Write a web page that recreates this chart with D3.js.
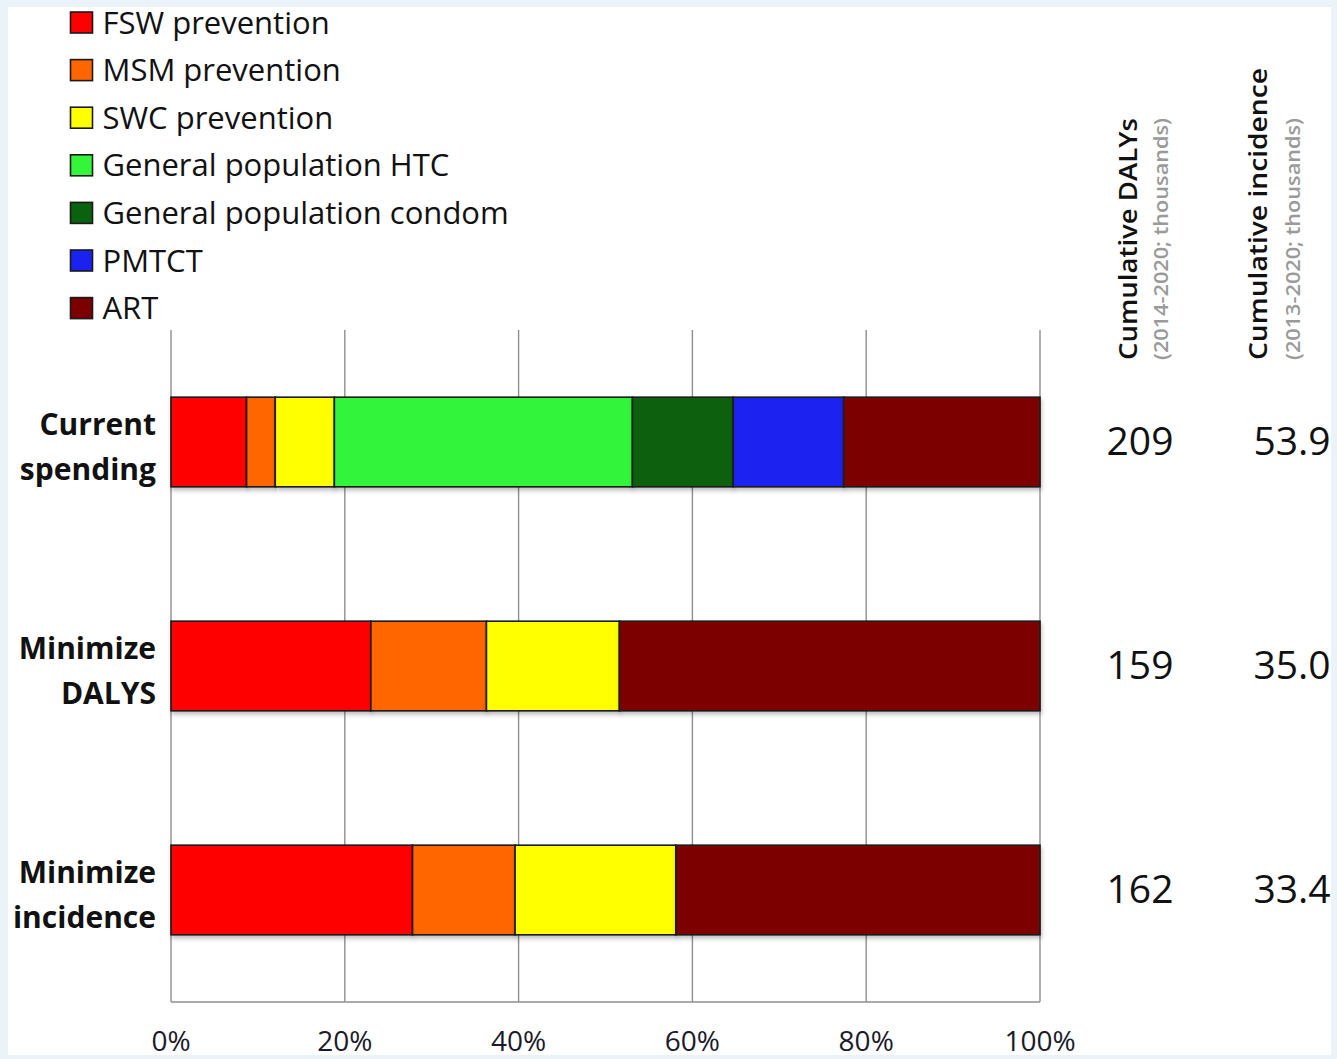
<!DOCTYPE html>
<html><head><meta charset="utf-8">
<script src="https://cdn.jsdelivr.net/npm/d3@7"></script>
<style>body{margin:0;background:#e9f3f8;} svg{display:block}</style>
</head><body><svg id="c" width="1337" height="1059"></svg>
<script>
const categories = ["Current spending","Minimize DALYS","Minimize incidence"];
const categoryLines = [["Current","spending"],["Minimize","DALYS"],["Minimize","incidence"]];
const seriesNames = ["FSW prevention","MSM prevention","SWC prevention","General population HTC","General population condom","PMTCT","ART"];
const seriesColors = ["#ff0000","#ff6600","#ffff00","#33f53a","#0a610e","#1a22f0","#7d0000"];
const fsw = [8.7, 23.0, 27.8];
const msm = [3.3, 13.3, 11.8];
const swc = [6.8, 15.3, 18.5];
const htc = [34.3, 0, 0];
const condom = [11.6, 0, 0];
const pmtct = [12.7, 0, 0];
const art = [22.6, 48.4, 41.9];
const dalys = ["209","159","162"];
const incidence = ["53.9","35.0","33.4"];
const colHeaders = [["Cumulative DALYs","(2014-2020; thousands)"],["Cumulative incidence","(2013-2020; thousands)"]];
const xTicks = [0,20,40,60,80,100];

const seriesValues = [fsw, msm, swc, htc, condom, pmtct, art];
const rows = categories.map((c,i)=>{const o={cat:c}; seriesNames.forEach((s,j)=>o[s]=seriesValues[j][i]); return o;});
const stack = d3.stack().keys(seriesNames)(rows);

const svg = d3.select("#c");
const FONT = "'Open Sans', sans-serif";
svg.append("rect").attr("x",8).attr("y",7).attr("width",1323).attr("height",1048).attr("fill","#fff");

const x = d3.scaleLinear().domain([0,100]).range([171,1040]);
const y = d3.scaleBand().domain(categories).range([330,1002]).paddingInner(0.6).paddingOuter(0.3);

// gridlines
svg.append("g").selectAll("line").data(xTicks).join("line")
  .attr("x1",d=>x(d)).attr("x2",d=>x(d)).attr("y1",330).attr("y2",1002)
  .attr("stroke","#8f8f8f").attr("stroke-width",1.4);
svg.append("line").attr("x1",x(0)).attr("x2",x(100)).attr("y1",1002).attr("y2",1002)
  .attr("stroke","#8f8f8f").attr("stroke-width",1.4);

// shadow filter
const defs = svg.append("defs");
const f = defs.append("filter").attr("id","sh").attr("x","-5%").attr("y","-20%").attr("width","110%").attr("height","150%");
f.append("feDropShadow").attr("dx",1).attr("dy",3).attr("stdDeviation",2).attr("flood-color","#000").attr("flood-opacity",0.25);

// bars
const g = svg.append("g");
stack.forEach((layer,j)=>{
  g.append("g").selectAll("rect").data(layer.filter(d=>d[1]-d[0]>0)).join("rect")
    .attr("x",d=>x(d[0])).attr("width",d=>x(d[1])-x(d[0]))
    .attr("y",d=>y(d.data.cat)).attr("height",y.bandwidth())
    .attr("fill",seriesColors[j]).attr("stroke","#1a1a1a").attr("stroke-width",1.6)
    .attr("filter","url(#sh)");
});

// tick labels
svg.append("g").selectAll("text").data(xTicks).join("text")
  .attr("x",d=>x(d)).attr("y",1051).attr("text-anchor","middle")
  .attr("font-family",FONT).attr("font-size",28).attr("fill","#1a1a2a")
  .text(d=>d+"%");

// category labels
categories.forEach((c,i)=>{
  const cy = y(c)+y.bandwidth()/2;
  const t = svg.append("text").attr("text-anchor","end").attr("font-family",FONT)
    .attr("font-weight","bold").attr("font-size",30).attr("fill","#111");
  t.append("tspan").attr("x",156).attr("y",cy-7).text(categoryLines[i][0]);
  t.append("tspan").attr("x",156).attr("y",cy+38).text(categoryLines[i][1]);
  svg.append("text").attr("x",1140).attr("y",cy+13).attr("text-anchor","middle")
    .attr("font-family",FONT).attr("font-size",39).attr("fill","#111").text(dalys[i]);
  svg.append("text").attr("x",1292).attr("y",cy+13).attr("text-anchor","middle")
    .attr("font-family",FONT).attr("font-size",39).attr("fill","#111").text(incidence[i]);
});

// column headers
[[1137,1168,242,242],[1267,1300,292,242]].forEach((p,i)=>{
  svg.append("text").attr("transform",`translate(${p[0]},360) rotate(-90)`)
    .attr("font-family",FONT).attr("font-size",26).attr("font-weight",600).attr("fill","#111")
    .attr("textLength",p[2]).attr("lengthAdjust","spacingAndGlyphs").text(colHeaders[i][0]);
  svg.append("text").attr("transform",`translate(${p[1]},360) rotate(-90)`)
    .attr("font-family",FONT).attr("font-size",19).attr("font-weight",600).attr("fill","#9a9a9a")
    .attr("textLength",p[3]).attr("lengthAdjust","spacingAndGlyphs").text(colHeaders[i][1]);
});

// legend
const leg = svg.append("g").selectAll("g").data(seriesNames).join("g")
  .attr("transform",(d,i)=>`translate(70.5,${12+i*47.6})`);
leg.append("rect").attr("width",22).attr("height",21).attr("fill",(d,i)=>seriesColors[i])
  .attr("stroke","#1a1a1a").attr("stroke-width",1.6);
leg.append("text").attr("x",32).attr("y",21.5).attr("font-family",FONT).attr("font-size",31)
  .attr("fill","#111").text(d=>d);
</script></body></html>
